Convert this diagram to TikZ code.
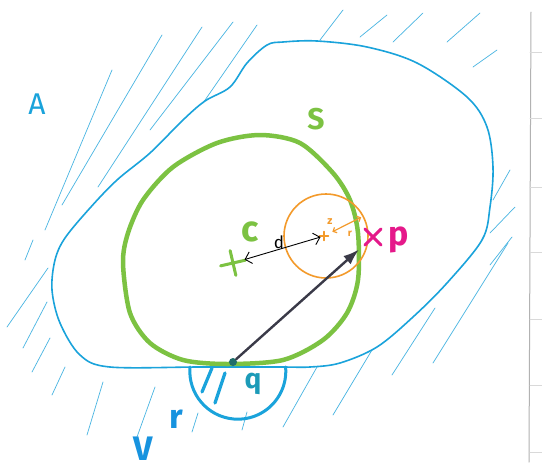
\documentclass[tikz,border=0pt]{standalone}
\usepackage{fontspec}
\setmainfont{Fira Sans}
\usepackage{tikz}
\usetikzlibrary{arrows.meta,shapes.misc}
\definecolor{sea}{HTML}{1AA3DB}
\definecolor{lime}{HTML}{7CC242}
\definecolor{tang}{HTML}{F39A2B}
\definecolor{pink}{HTML}{E5198A}
\definecolor{slate}{HTML}{3A3A48}
\definecolor{deep}{HTML}{1F6E6A}
\definecolor{teal}{HTML}{1C9BB8}

\begin{document}
\begin{tikzpicture}[x=1pt,y=-1pt,line cap=round,line join=round,border/.style={draw=sea,line width=1.6pt},hatch/.style={draw=sea!80,line width=0.7pt},lbl/.style={inner sep=0pt,font=\bfseries\fontsize{30}{30}\selectfont},xmark/.style={cross out,draw,inner sep=0pt,minimum size=14pt,line width=2.6pt}]
\fill[white] (0,0) rectangle (542,472);
\useasboundingbox (0,0) rectangle (542,472);
% hatching of the outside region A
\foreach \xa/\ya/\xb/\yb in {45/230/112/70,62/205/162/35,98/187/202/27,150/130/233/22,203/103/257/25,320/40/343/10,360/37/387/15,393/42/423/13,447/42/480/13,473/67/497/50,493/200/510/170,490/233/515/207,433/363/508/243,490/265/512/237,392/375/435/308,333/415/372/350,283/427/317/367,242/430/247/412,192/432/198/413,137/437/155/387,87/435/103/382,52/395/65/367,32/372/50/338,23/348/47/302,7/327/48/268,25/260/33/240}
  \draw[hatch] (\xa,\ya) -- (\xb,\yb);
\draw[border] plot[smooth cycle,tension=0.55] coordinates {(283,42) (317,41) (367,47) (417,63) (467,97) (487,127) (493,167) (490,207) (482,240) (447,283) (413,317) (377,347) (340,363) (310,367) (280,367) (200,367) (110,367) (80,355) (60,323) (52,290) (55,260) (65,238) (90,208) (117,180) (150,153) (183,120) (205,101) (230,87) (247,63) (267,45)};
% set S
\draw[lime,line width=4.5pt] plot[smooth cycle] coordinates {(260,135) (300,143) (333,173) (350,200) (358,233) (358,280) (347,313) (323,340) (283,360) (227,364) (183,360) (150,343) (130,313) (123,263) (128,233) (143,200) (173,167) (217,143)};
% ball round q
\draw[sea,line width=3pt] (190,367) arc[start angle=185,end angle=-5,radius=48];
\draw[sea,line width=3.2pt] (212,368) -- (202,392) (225,373) -- (215,403);
% ball round z
\node[circle,draw=tang,line width=1.6pt,minimum size=84pt,inner sep=0pt] (ball) at (326,236) {};
\node[xmark,draw=tang,minimum size=5pt,line width=1.4pt,rotate=45] (z) at (324,236) {};
\node[xmark,draw=lime,minimum size=15pt,line width=3pt,rotate=58] (c) at (233,263) {};
\node[xmark,draw=pink,minimum size=13pt,line width=3pt] (p) at (373,237) {};
\node[circle,fill=deep,inner sep=0pt,minimum size=8pt] (q) at (233,362) {};
\draw[{Straight Barb[length=6pt]}-{Straight Barb[length=6pt]},line width=0.9pt] (c) -- (z);
\draw[{Straight Barb[length=3pt]}-{Straight Barb[length=3pt]},tang,line width=1.2pt,shorten <=6pt,shorten >=3pt] (z) -- (ball.28);
\draw[-{Latex[length=16pt,width=11pt]},slate,line width=2.4pt,shorten >=8pt] (q) -- (p);
% labels
\node[lbl,font=\fontsize{30}{30}\selectfont,text=sea] (A) at (37,104) {A};
\node[lbl,text=lime] (S) at (316,119) {S};
\node[lbl,font=\bfseries\fontsize{36}{36}\selectfont,text=lime] (clbl) at (250,232) {c};
\node[lbl,font=\fontsize{17}{17}\selectfont] (dlbl) at (279,242) {d};
\node[lbl,font=\bfseries\fontsize{34}{34}\selectfont,text=pink] (plbl) at (399,240) {p};
\node[lbl,font=\bfseries\fontsize{11}{11}\selectfont,text=tang] (zlbl) at (330,222) {z};
\node[lbl,font=\bfseries\fontsize{10}{10}\selectfont,text=tang] (rlbl) at (350,234) {r};
\node[lbl,font=\bfseries\fontsize{28}{28}\selectfont,text=teal] (qlbl) at (253,384) {q};
\node[lbl,font=\bfseries\fontsize{34}{34}\selectfont,text=sea!90!blue] (V) at (143,449) {V};
\node[lbl,font=\bfseries\fontsize{34}{34}\selectfont,text=sea!90!blue] (Vr) at (176,419) {r};
% sheet edge
\draw[gray!60,line width=1pt] (531,12) -- (529,462);
\foreach \y in {52,118,187,252,319,385,452}
  \draw[gray!30,line width=0.6pt] (530,\y) -- (542,\y);
\end{tikzpicture}
\end{document}
